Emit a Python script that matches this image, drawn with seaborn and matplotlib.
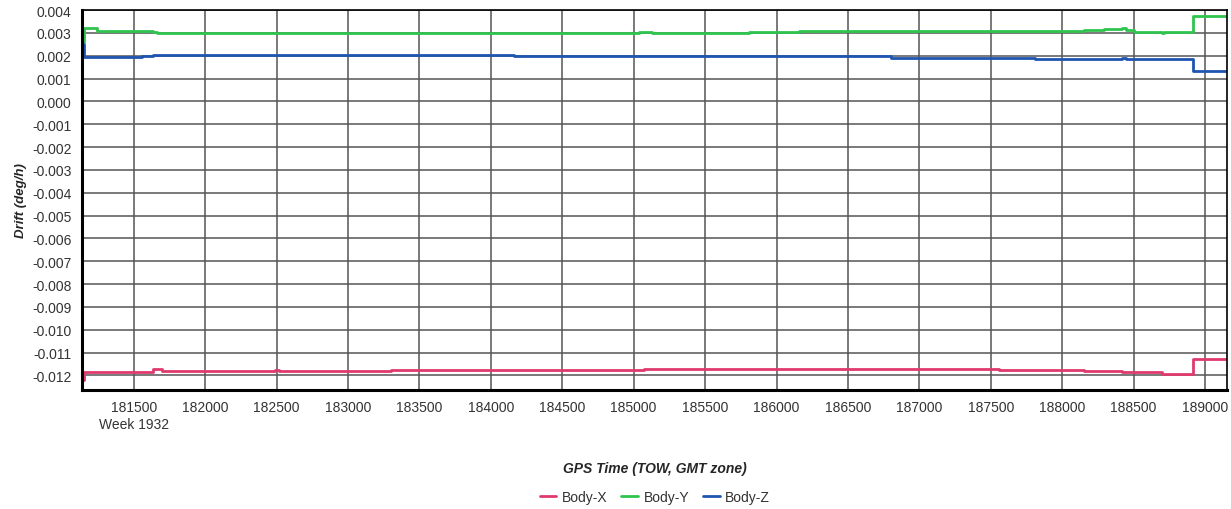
"""
Gyro drift estimate (Body-X/Y/Z) over GPS time of week.
"""

import matplotlib
matplotlib.use("Agg")
import matplotlib.pyplot as plt
import numpy as np
import pandas as pd
import seaborn as sns

RED, GREEN, BLUE = "#e03a6c", "#2ec44e", "#1f55b0"

# step breakpoints (TOW seconds) and drift values (deg/h)
x_time = [181138, 181150, 181241, 181560, 181633, 181660, 181700, 181750, 182486, 182520,
          183000, 183300, 183605, 184164, 185040, 185075, 185131, 185810, 186160, 186800,
          187560, 187812, 188155, 188295, 188421, 188450, 188505, 188701, 188715, 188918, 189154]
body_x = [-0.0122, -0.01185, -0.01185, -0.01185, -0.0117, -0.01172, -0.0118, -0.0118, -0.01175, -0.0118,
          -0.0118, -0.01178, -0.01175, -0.01175, -0.01175, -0.01174, -0.01174, -0.01174, -0.01174, -0.01174,
          -0.01175, -0.01175, -0.01179, -0.01179, -0.01183, -0.01183, -0.01185, -0.01194, -0.01194, -0.01129, -0.01129]
body_y = [0.0026, 0.0032, 0.0031, 0.00308, 0.00302, 0.00300, 0.00300, 0.00300, 0.00300, 0.00301,
          0.00301, 0.00301, 0.00301, 0.00301, 0.00305, 0.00305, 0.00301, 0.00305, 0.00308, 0.00310,
          0.00310, 0.00310, 0.00311, 0.00315, 0.00320, 0.00312, 0.00305, 0.00300, 0.00302, 0.00376, 0.00376]
body_z = [0.0025, 0.00194, 0.00194, 0.00197, 0.00203, 0.00204, 0.00204, 0.00204, 0.00205, 0.00204,
          0.00204, 0.00204, 0.00204, 0.00198, 0.00198, 0.00198, 0.00198, 0.00198, 0.00197, 0.00192,
          0.00190, 0.00186, 0.00186, 0.00186, 0.00190, 0.00186, 0.00185, 0.00185, 0.00185, 0.00133, 0.00133]

x_ticks = list(range(181500, 189001, 500))
y_ticks = [round(v * 0.001, 3) for v in range(-12, 5)]

sns.set_style("white")
plt.rcParams["font.family"] = ["Liberation Sans", "DejaVu Sans"]
plt.rcParams["axes.unicode_minus"] = False

df = pd.DataFrame({"time": x_time, "Body-X": body_x, "Body-Y": body_y, "Body-Z": body_z})
long = df.melt(id_vars="time", var_name="axis", value_name="drift")

fig = plt.figure(figsize=(12.31, 5.10), dpi=100)
ax = fig.add_axes([0.0666, 0.2333, 0.9302, 0.745])

sns.lineplot(data=long, x="time", y="drift", hue="axis",
             palette={"Body-X": RED, "Body-Y": GREEN, "Body-Z": BLUE},
             drawstyle="steps-post", linewidth=2, ax=ax, legend=False,
             estimator=None, sort=False)

ax.set_xlim(181138, 189154)
ax.set_ylim(-0.01264, 0.004)
ax.set_xticks(x_ticks)
ax.set_xticklabels([str(t) for t in x_ticks])
ax.set_yticks(y_ticks)
ax.set_yticklabels([f"{v:.3f}" for v in y_ticks])
ax.tick_params(axis="both", labelsize=10, colors="#222222", length=4, width=1,
               direction="out", labelcolor="#333333")
ax.tick_params(axis="x", pad=3)
ax.grid(True, color="#555555", linewidth=1.1)
for side, sp in ax.spines.items():
    sp.set_visible(True)
    sp.set_color("black")
    sp.set_linewidth(2.2 if side in ("left", "bottom") else 1.2)

ax.set_xlabel("")
ax.set_ylabel("Drift (deg/h)", fontsize=9.5, fontweight="bold", fontstyle="italic", labelpad=4)
fig.text(0.1085, 0.166, "Week 1932", fontsize=10, color="#333333", ha="center", va="center")
fig.text(0.532, 0.081, "GPS Time (TOW, GMT zone)", fontsize=10, fontweight="bold",
         fontstyle="italic", ha="center", va="center")

handles = [plt.Line2D([], [], color=c, linewidth=2) for c in (RED, GREEN, BLUE)]
fig.legend(handles, ["Body-X", "Body-Y", "Body-Z"], loc="center", bbox_to_anchor=(0.532, 0.023),
           ncol=3, frameon=False, fontsize=10, handlelength=1.2, handletextpad=0.4,
           columnspacing=1.0, labelcolor="#333333")

plt.savefig("out.png", dpi=100)
plt.close()
